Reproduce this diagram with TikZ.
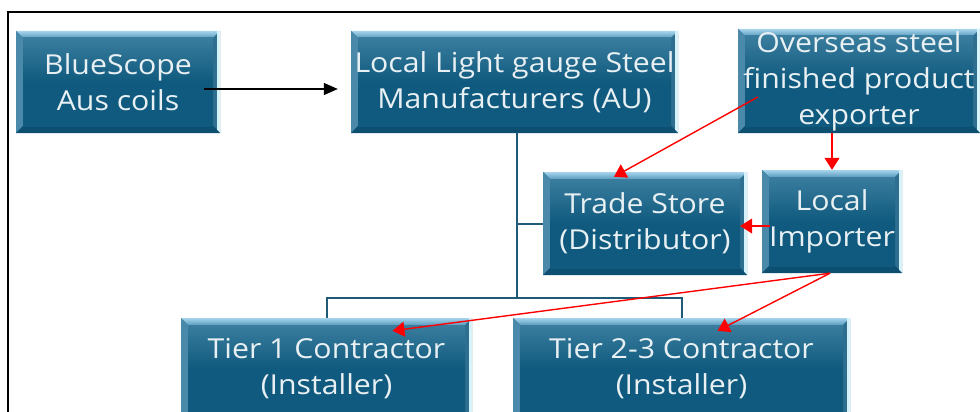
\documentclass[tikz,border=0pt]{standalone}
\usepackage{fontspec}
\setmainfont[FakeStretch=1.1]{Open Sans}
\usetikzlibrary{arrows.meta}
\definecolor{boxmid}{HTML}{115A7D}
\definecolor{innertop}{HTML}{3A7D9E}
\definecolor{innerbot}{HTML}{0F5A7E}
\definecolor{bevtop}{HTML}{A6D4EC}
\definecolor{bevtopb}{HTML}{5A9CBE}
\definecolor{bevleft}{HTML}{4A89A9}
\definecolor{bevright}{HTML}{2E6F8F}
\definecolor{bevedge}{HTML}{D6F2FA}
\definecolor{bevbot}{HTML}{0D4F70}
\definecolor{boxtext}{HTML}{E8F0F3}
\definecolor{treecol}{HTML}{1F5B78}
\newcommand{\bvw}{7pt}
\tikzset{
  bevbox/.style={inner sep=0pt, align=center, text=boxtext,
    font=\fontsize{27.5}{36}\selectfont,
    path picture={
      \fill[boxmid] (path picture bounding box.south west) rectangle (path picture bounding box.north east);
      \shade[top color=bevtop, bottom color=bevtopb]
        (path picture bounding box.north west) -- (path picture bounding box.north east)
        -- ([xshift=-\bvw,yshift=-\bvw]path picture bounding box.north east)
        -- ([xshift=\bvw,yshift=-\bvw]path picture bounding box.north west) -- cycle;
      \fill[bevleft]
        (path picture bounding box.north west) -- ([xshift=\bvw,yshift=-\bvw]path picture bounding box.north west)
        -- ([xshift=\bvw,yshift=\bvw]path picture bounding box.south west) -- (path picture bounding box.south west) -- cycle;
      \fill[bevright]
        (path picture bounding box.north east) -- (path picture bounding box.south east)
        -- ([xshift=-\bvw,yshift=\bvw]path picture bounding box.south east)
        -- ([xshift=-\bvw,yshift=-\bvw]path picture bounding box.north east) -- cycle;
      \fill[bevedge] ([xshift=-3pt]path picture bounding box.south east) rectangle (path picture bounding box.north east);
      \fill[bevbot]
        (path picture bounding box.south west) -- (path picture bounding box.south east)
        -- ([xshift=-\bvw,yshift=\bvw]path picture bounding box.south east)
        -- ([xshift=\bvw,yshift=\bvw]path picture bounding box.south west) -- cycle;
      \shade[top color=innertop, bottom color=innerbot, middle color=innerbot]
        ([xshift=\bvw,yshift=-\bvw]path picture bounding box.north west)
        rectangle ([xshift=-\bvw,yshift=\bvw]path picture bounding box.south east);
    }},
  tree/.style={draw=treecol, line width=2pt},
  redarr/.style={draw=red, line width=1.4pt, -{Triangle[length=12pt,width=15pt]}},
  blackarr/.style={draw=black, line width=1.4pt, -{Triangle[length=14pt,width=12pt]}},
}
\begin{document}
\begin{tikzpicture}[x=1pt,y=-1pt]
\useasboundingbox (0,0) rectangle (980,412);
\clip (0,0) rectangle (980,412);
\fill[white] (0,0) rectangle (980,412);
\draw[line width=1.4pt] (8,430) -- (8,12) -- (990,12);

\node[bevbox, minimum width=204pt, minimum height=102pt] (blue) at (118,82) {BlueScope\\Aus coils};
\node[bevbox, minimum width=327pt, minimum height=102pt] (mfr) at (514.5,82) {Local Light gauge Steel\\Manufacturers (AU)};
\node[bevbox, minimum width=242pt, minimum height=104pt] (over) at (859,81) {Overseas steel\\finished product\\exporter};
\node[bevbox, minimum width=204pt, minimum height=103pt] (trade) at (645,223.5) {Trade Store\\(Distributor)};
\node[bevbox, minimum width=140pt, minimum height=103pt] (imp) at (832,221.5) {Local\\Importer};
\node[bevbox, minimum width=291pt, minimum height=102pt] (t1) at (326.5,369) {Tier 1 Contractor\\(Installer)};
\node[bevbox, minimum width=337pt, minimum height=102pt] (t2) at (681.5,369) {Tier 2-3 Contractor\\(Installer)};

\coordinate (bus) at (517,298);
\draw[tree] (mfr.south -| bus) -- (bus);
\draw[tree] (bus |- trade.west) -- (trade.west);
\draw[tree] (t1.north) -- (t1.north |- bus) -- (t2.north |- bus) -- (t2.north);

\draw[blackarr] ([xshift=-16pt,yshift=-7pt]blue.east) -- ([xshift=-13pt,yshift=-7pt]mfr.west);

\draw[redarr] ([xshift=20pt,yshift=-16pt]over.west) -- ([xshift=-31pt,yshift=-5pt]trade.north);
\draw[redarr] (imp.north |- over.south) -- (imp.north);
\draw[redarr] ([xshift=8pt,yshift=-4.5pt]imp.west) -- ([xshift=-7pt,yshift=-2.5pt]trade.east);
\draw[redarr] ([xshift=-2pt]imp.south) -- ([xshift=66pt,yshift=-13pt]t1.north);
\draw[redarr] ([xshift=-2pt]imp.south) -- ([xshift=36pt,yshift=-13pt]t2.north);
\end{tikzpicture}
\end{document}
